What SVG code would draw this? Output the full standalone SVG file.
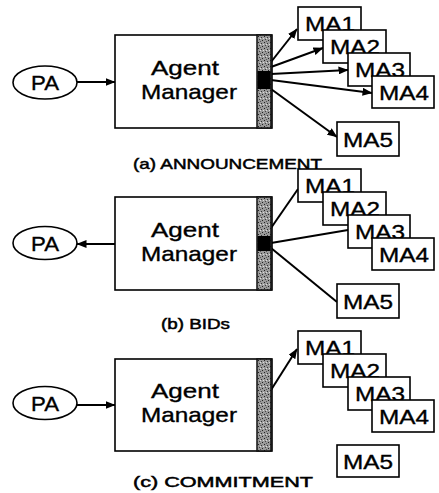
<svg xmlns="http://www.w3.org/2000/svg" width="439" height="493" viewBox="0 0 439 493">
<defs>
<pattern id="stip" width="6" height="6" patternUnits="userSpaceOnUse">
<rect width="6" height="6" fill="#9a9a9a"/>
<rect x="0" y="0" width="1" height="1" fill="#222"/>
<rect x="3" y="1" width="1" height="1" fill="#333"/>
<rect x="1" y="3" width="1" height="1" fill="#444"/>
<rect x="4" y="4" width="1" height="1" fill="#222"/>
<rect x="2" y="5" width="1" height="1" fill="#555"/>
<rect x="5" y="2" width="1" height="1" fill="#ddd"/>
<rect x="2" y="2" width="1" height="1" fill="#ddd"/>
</pattern>
<marker id="ah" viewBox="0 0 10 8" refX="9.5" refY="4" markerWidth="10" markerHeight="8" markerUnits="userSpaceOnUse" orient="auto">
<path d="M0,0 L10,4 L0,8 Z" fill="#000"/>
</marker>
</defs>
<style>
text{font-family:"Liberation Sans",Arial,sans-serif;fill:#000;stroke:#000;stroke-width:0.35}
.lbl{font-size:21px;text-anchor:middle}
.ma{font-size:20px;text-anchor:middle}
.cap{font-size:15px;stroke-width:0.5}
.box{fill:#fff;stroke:#000;stroke-width:1.6}
.strip{fill:url(#stip);stroke:#111;stroke-width:1.5}
.line{stroke:#000;stroke-width:2;fill:none}
.arr{stroke:#000;stroke-width:2;fill:none;marker-end:url(#ah)}
</style>
<g id="connectors">
<line class="arr" x1="77" y1="82" x2="115" y2="82"/>
<line class="arr" x1="271" y1="62" x2="297" y2="29"/>
<line class="arr" x1="271" y1="67" x2="323" y2="48"/>
<line class="arr" x1="271" y1="74" x2="348" y2="70"/>
<line class="arr" x1="271" y1="80" x2="372" y2="93"/>
<line class="arr" x1="271" y1="89" x2="337" y2="137"/>
<line class="arr" x1="115" y1="244" x2="77" y2="244"/>
<line class="line" x1="271" y1="228" x2="298" y2="189"/>
<line class="line" x1="271" y1="243" x2="348" y2="230"/>
<line class="line" x1="271" y1="248" x2="337" y2="302"/>
<line class="arr" x1="77" y1="405" x2="115" y2="405"/>
<line class="arr" x1="271" y1="390" x2="297" y2="349"/>
</g>
<g id="pa-a"><ellipse class="box" cx="45" cy="82.5" rx="32" ry="16.5"/><text class="lbl" x="45" y="90" textLength="28" lengthAdjust="spacingAndGlyphs">PA</text></g>
<g id="am-a"><rect class="box" x="115" y="35" width="157" height="93"/><rect class="strip" x="257" y="35" width="14" height="93"/><rect x="257.5" y="71" width="13" height="18" fill="#000"/><text class="lbl" x="185" y="75" textLength="68" lengthAdjust="spacingAndGlyphs">Agent</text><text class="lbl" x="189" y="99" textLength="96" lengthAdjust="spacingAndGlyphs">Manager</text></g>
<g id="ma1-a"><rect class="box" x="298" y="7" width="63" height="33"/><text class="ma" x="330" y="31" textLength="50" lengthAdjust="spacingAndGlyphs">MA1</text></g>
<g id="ma2-a"><rect class="box" x="323" y="30" width="63" height="33"/><text class="ma" x="355" y="54" textLength="50" lengthAdjust="spacingAndGlyphs">MA2</text></g>
<g id="ma3-a"><rect class="box" x="348" y="53" width="62" height="33"/><text class="ma" x="380" y="77" textLength="50" lengthAdjust="spacingAndGlyphs">MA3</text></g>
<g id="ma4-a"><rect class="box" x="372" y="76" width="62" height="32"/><text class="ma" x="404" y="100" textLength="50" lengthAdjust="spacingAndGlyphs">MA4</text></g>
<g id="ma5-a"><rect class="box" x="337" y="122" width="62" height="34"/><text class="ma" x="368" y="147" textLength="50" lengthAdjust="spacingAndGlyphs">MA5</text></g>
<text id="cap-a" class="cap" x="133" y="169" textLength="189" lengthAdjust="spacingAndGlyphs">(a) ANNOUNCEMENT</text>

<g id="pa-b"><ellipse class="box" cx="45" cy="243" rx="32" ry="16.5"/><text class="lbl" x="45" y="251" textLength="28" lengthAdjust="spacingAndGlyphs">PA</text></g>
<g id="am-b"><rect class="box" x="115" y="197" width="157" height="93"/><rect class="strip" x="257" y="197" width="14" height="93"/><rect x="257.5" y="236" width="13" height="15" fill="#000"/><text class="lbl" x="185" y="237" textLength="68" lengthAdjust="spacingAndGlyphs">Agent</text><text class="lbl" x="189" y="261" textLength="96" lengthAdjust="spacingAndGlyphs">Manager</text></g>
<g id="ma1-b"><rect class="box" x="298" y="169" width="63" height="33"/><text class="ma" x="330" y="193" textLength="50" lengthAdjust="spacingAndGlyphs">MA1</text></g>
<g id="ma2-b"><rect class="box" x="323" y="192" width="63" height="33"/><text class="ma" x="355" y="216" textLength="50" lengthAdjust="spacingAndGlyphs">MA2</text></g>
<g id="ma3-b"><rect class="box" x="348" y="215" width="62" height="33"/><text class="ma" x="380" y="239" textLength="50" lengthAdjust="spacingAndGlyphs">MA3</text></g>
<g id="ma4-b"><rect class="box" x="372" y="238" width="62" height="32"/><text class="ma" x="404" y="262" textLength="50" lengthAdjust="spacingAndGlyphs">MA4</text></g>
<g id="ma5-b"><rect class="box" x="337" y="284" width="62" height="34"/><text class="ma" x="368" y="309" textLength="50" lengthAdjust="spacingAndGlyphs">MA5</text></g>
<text id="cap-b" class="cap" x="161" y="329" textLength="69" lengthAdjust="spacingAndGlyphs">(b) BIDs</text>

<g id="pa-c"><ellipse class="box" cx="45" cy="403" rx="32" ry="16.5"/><text class="lbl" x="45" y="411" textLength="28" lengthAdjust="spacingAndGlyphs">PA</text></g>
<g id="am-c"><rect class="box" x="115" y="359" width="157" height="92"/><rect class="strip" x="257" y="359" width="14" height="92"/><text class="lbl" x="185" y="398" textLength="68" lengthAdjust="spacingAndGlyphs">Agent</text><text class="lbl" x="189" y="422" textLength="96" lengthAdjust="spacingAndGlyphs">Manager</text></g>
<g id="ma1-c"><rect class="box" x="298" y="331" width="63" height="33"/><text class="ma" x="330" y="355" textLength="50" lengthAdjust="spacingAndGlyphs">MA1</text></g>
<g id="ma2-c"><rect class="box" x="323" y="354" width="63" height="33"/><text class="ma" x="355" y="378" textLength="50" lengthAdjust="spacingAndGlyphs">MA2</text></g>
<g id="ma3-c"><rect class="box" x="348" y="377" width="62" height="33"/><text class="ma" x="380" y="401" textLength="50" lengthAdjust="spacingAndGlyphs">MA3</text></g>
<g id="ma4-c"><rect class="box" x="372" y="400" width="62" height="32"/><text class="ma" x="404" y="424" textLength="50" lengthAdjust="spacingAndGlyphs">MA4</text></g>
<g id="ma5-c"><rect class="box" x="337" y="445" width="62" height="32"/><text class="ma" x="368" y="469" textLength="50" lengthAdjust="spacingAndGlyphs">MA5</text></g>
<text id="cap-c" class="cap" x="133" y="487" textLength="180" lengthAdjust="spacingAndGlyphs">(c) COMMITMENT</text>
</svg>
